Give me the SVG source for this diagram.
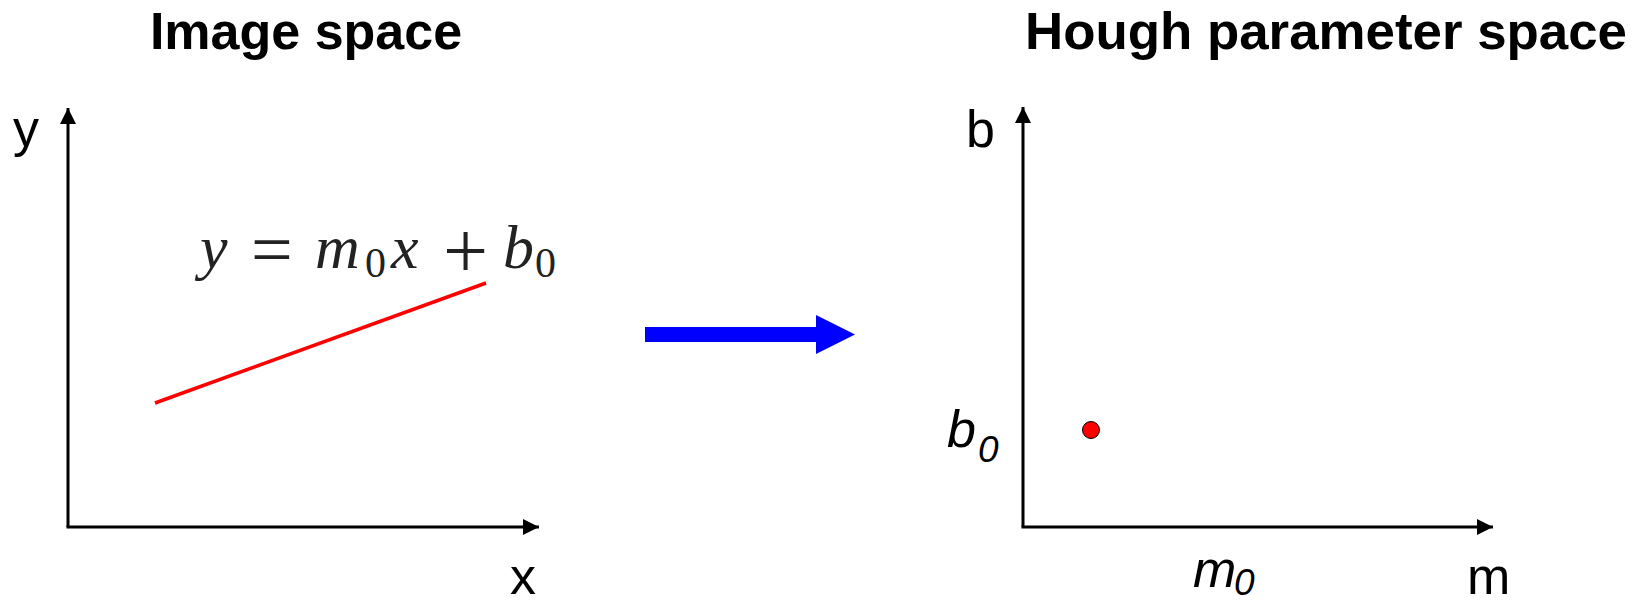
<svg xmlns="http://www.w3.org/2000/svg" width="1646" height="603" viewBox="0 0 1646 603">
<style>
.title{font-family:"Liberation Sans",Arial,sans-serif;font-weight:bold;font-size:52px;fill:#000}
.lab{font-family:"Liberation Sans",Arial,sans-serif;font-size:52px;fill:#000}
.it{font-family:"Liberation Sans",Arial,sans-serif;font-style:italic;font-size:52px;fill:#000}
.sub{font-size:37px}
.eq{font-family:"Liberation Serif","Times New Roman",serif;font-size:62px;fill:#222}
.axis{stroke:#000;stroke-width:3;fill:none}
</style>
<defs>
<marker id="ah" viewBox="0 0 16 16" refX="16" refY="8" markerWidth="16" markerHeight="16" markerUnits="userSpaceOnUse" orient="auto">
<path d="M0,0 L16,8 L0,16 Z" fill="#000"/>
</marker>
</defs>
<rect width="1646" height="603" fill="#fff"/>
<g id="titles">
<text class="title" x="306" y="49" text-anchor="middle">Image space</text>
<text class="title" x="1326" y="49" text-anchor="middle" textLength="602" lengthAdjust="spacingAndGlyphs">Hough parameter space</text>
</g>
<g id="connectors">
<line class="axis" x1="68" y1="527" x2="68" y2="108" marker-end="url(#ah)"/>
<line class="axis" x1="66.5" y1="527" x2="539" y2="527" marker-end="url(#ah)"/>
<line class="axis" x1="1023" y1="527" x2="1023" y2="107" marker-end="url(#ah)"/>
<line class="axis" x1="1021.5" y1="527" x2="1493" y2="527" marker-end="url(#ah)"/>
<g id="transform-arrow">
<rect x="645" y="327" width="173" height="15" fill="#0000ff"/>
<path d="M816,315 L855,334.5 L816,354 Z" fill="#0000ff"/>
</g>
</g>
<g id="image-space">
<text class="lab" x="13" y="146">y</text>
<text class="lab" x="510" y="594">x</text>
<line id="red-line" x1="155" y1="403" x2="486" y2="283" stroke="#ff0000" stroke-width="3.5"/>
<g id="equation" class="eq">
<text x="200" y="268" font-style="italic">y</text>
<text x="251" y="274" font-size="74">=</text>
<text x="315" y="268" font-style="italic">m</text>
<text x="365" y="277" font-size="42">0</text>
<text x="391" y="268" font-style="italic">x</text>
<text x="443" y="278" font-size="80">+</text>
<text x="503" y="268" font-style="italic">b</text>
<text x="535" y="277" font-size="42">0</text>
</g>
</g>
<g id="hough-space">
<text class="lab" x="966" y="147">b</text>
<text class="lab" x="1467" y="594">m</text>
<text class="it" x="947" y="447">b<tspan class="sub" x="978" y="462">0</tspan></text>
<text class="it" x="1193" y="587">m<tspan class="sub" x="1234" y="595">0</tspan></text>
<circle id="point" cx="1091" cy="430" r="8.5" fill="#ff0000" stroke="#000" stroke-width="1"/>
</g>
</svg>
